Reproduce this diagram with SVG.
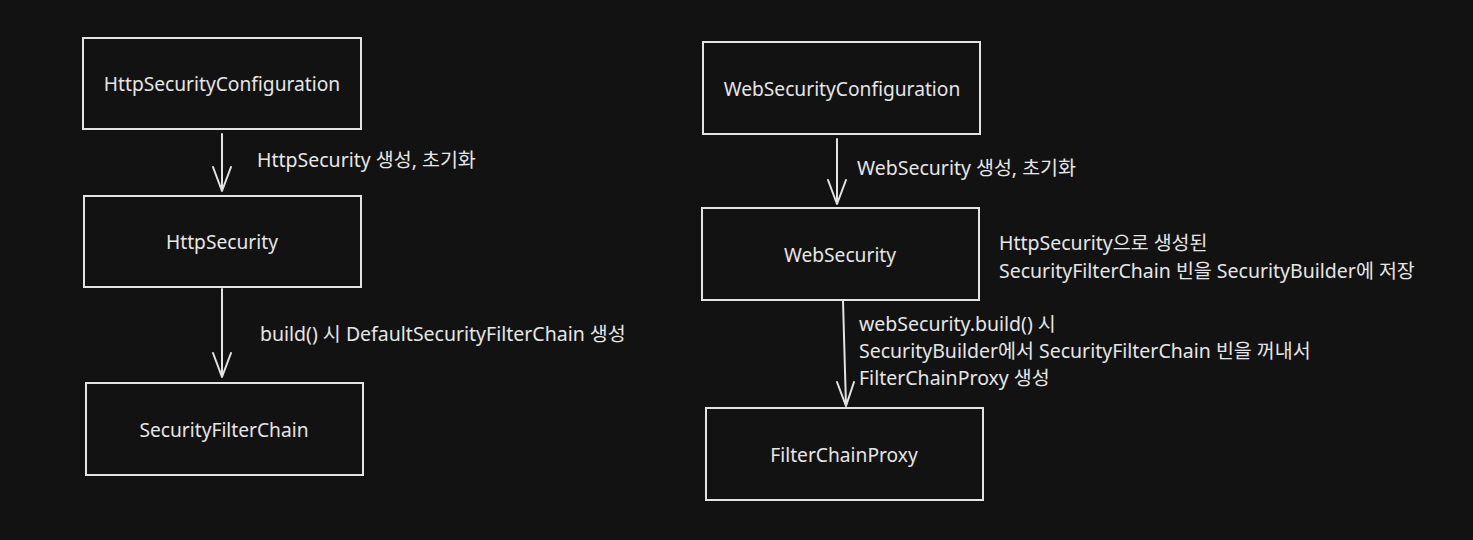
<svg xmlns="http://www.w3.org/2000/svg" width="1473" height="540" viewBox="0 0 1473 540">
<style>
.bg{fill:#121212}
.box{fill:#121212;stroke:#e3e3e3;stroke-width:2}
.t{font-family:"Noto Sans","Noto Sans CJK KR",sans-serif;font-size:19.5px;fill:#e6e6e6}
.c{text-anchor:middle;dominant-baseline:central;font-size:19.2px}
.l{dominant-baseline:central}
.edge{stroke:#e3e3e3;stroke-width:2;fill:none;stroke-linecap:round;stroke-linejoin:round}
</style>
<rect class="bg" x="0" y="0" width="1473" height="540"/>
<g id="edges">
<path class="edge" d="M222 134 L222 191 M213 167 L222 191 L231 167"/>
<path class="edge" d="M222 289 L222 377 M213 353 L222 377 L231 353"/>
<path class="edge" d="M837 139 L837 204 M828 180 L837 204 L846 180"/>
<path class="edge" d="M843 301 L846 406 M837 382 L846 406 L854 382"/>
<text class="t l" x="257" y="159">HttpSecurity 생성, 초기화</text>
<text class="t l" x="260" y="333">build() 시 DefaultSecurityFilterChain 생성</text>
<text class="t l" x="857" y="167">WebSecurity 생성, 초기화</text>
<text class="t l" x="859" y="323">webSecurity.build() 시</text>
<text class="t l" x="859" y="350">SecurityBuilder에서 SecurityFilterChain 빈을 꺼내서</text>
<text class="t l" x="859" y="377">FilterChainProxy 생성</text>
</g>
<g id="httpSecurityConfiguration">
<rect class="box" x="83" y="38" width="278" height="91"/>
<text class="t c" x="222" y="83">HttpSecurityConfiguration</text>
</g>
<g id="httpSecurity">
<rect class="box" x="84" y="196" width="277" height="91"/>
<text class="t c" x="222" y="241">HttpSecurity</text>
</g>
<g id="securityFilterChain">
<rect class="box" x="86" y="383" width="277" height="92"/>
<text class="t c" x="224" y="429">SecurityFilterChain</text>
</g>
<g id="webSecurityConfiguration">
<rect class="box" x="703" y="42" width="277" height="92"/>
<text class="t c" x="842" y="88">WebSecurityConfiguration</text>
</g>
<g id="webSecurity">
<rect class="box" x="702" y="208" width="277" height="92"/>
<text class="t c" x="840" y="254">WebSecurity</text>
</g>
<g id="webSecurityNote">
<text class="t l" x="999" y="242">HttpSecurity으로 생성된</text>
<text class="t l" x="999" y="270">SecurityFilterChain 빈을 SecurityBuilder에 저장</text>
</g>
<g id="filterChainProxy">
<rect class="box" x="706" y="408" width="277" height="92"/>
<text class="t c" x="844" y="454">FilterChainProxy</text>
</g>
</svg>
